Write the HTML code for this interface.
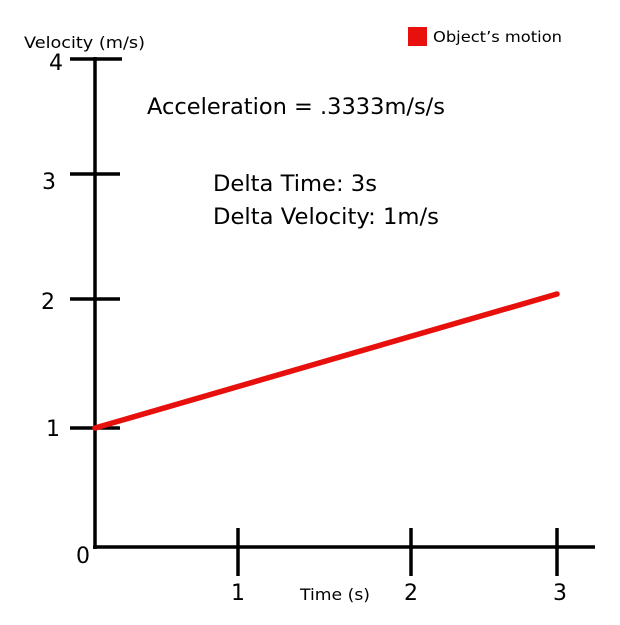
<!DOCTYPE html>
<html><head><style>
html,body{margin:0;padding:0;background:#fff;}
svg text{font-family:"DejaVu Sans","Liberation Sans",sans-serif;fill:#000;}
</style></head><body>
<svg width="620" height="620" viewBox="0 0 620 620" xmlns="http://www.w3.org/2000/svg">
<rect width="620" height="620" fill="#fff"/>
<g stroke="#000" stroke-width="3.5" fill="none">
<line x1="95" y1="57" x2="95" y2="549"/>
<line x1="93" y1="547" x2="595" y2="547"/>
<line x1="70" y1="59" x2="122" y2="59"/>
<line x1="70" y1="174" x2="120" y2="174"/>
<line x1="70" y1="299" x2="120" y2="299"/>
<line x1="70" y1="428" x2="120" y2="428"/>
<line x1="238" y1="528" x2="238" y2="576"/>
<line x1="411" y1="528" x2="411" y2="576"/>
<line x1="557" y1="528" x2="557" y2="576"/>
</g>
<line x1="95" y1="428" x2="557" y2="294" stroke="#e8100c" stroke-width="5.5" stroke-linecap="round"/>
<g font-size="22">
<text x="49" y="70">4</text>
<text x="42" y="189">3</text>
<text x="41" y="309">2</text>
<text x="46" y="436">1</text>
<text x="76" y="563">0</text>
<text x="231" y="600">1</text>
<text x="404" y="600">2</text>
<text x="553" y="600">3</text>
</g>
<text x="300" y="600" font-size="16" textLength="70" lengthAdjust="spacingAndGlyphs">Time (s)</text>
<text x="24" y="48" font-size="16" textLength="121" lengthAdjust="spacingAndGlyphs">Velocity (m/s)</text>
<rect x="408" y="27" width="19" height="19" fill="#e8100c"/>
<text x="433" y="42" font-size="15" textLength="129" lengthAdjust="spacingAndGlyphs">Object’s motion</text>
<text x="147" y="114" font-size="22" textLength="298" lengthAdjust="spacingAndGlyphs">Acceleration = .3333m/s/s</text>
<text x="213" y="191" font-size="22" textLength="164" lengthAdjust="spacingAndGlyphs">Delta Time: 3s</text>
<text x="213" y="224" font-size="22" textLength="226" lengthAdjust="spacingAndGlyphs">Delta Velocity: 1m/s</text>
</svg>
</body></html>
